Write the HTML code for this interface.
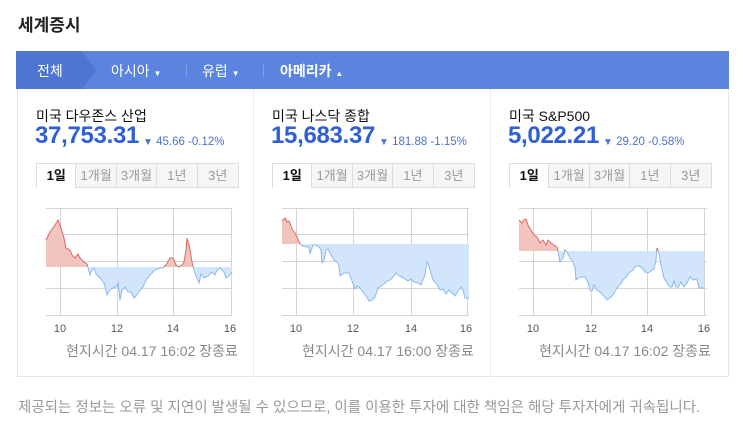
<!DOCTYPE html>
<html><head><meta charset="utf-8"><style>
*{margin:0;padding:0;box-sizing:border-box}
body{width:743px;height:429px;background:#fff;font-family:"Liberation Sans","Noto Sans CJK KR",sans-serif;position:relative;overflow:hidden}
.a{position:absolute;white-space:nowrap}
.title{left:18px;top:11px;font-size:17px;font-weight:bold;color:#222}
.bar{left:16px;top:51px;width:713px;height:38px;background:#5b84de}
.nav{color:#fff;font-size:14px;top:61px}
.panel{left:17px;top:89px;width:712px;height:288px;border:1px solid #e5e5e5;border-top:none}
.div{top:89px;width:1px;height:288px;background:#ececec}
.name{font-size:14px;color:#111;top:106px}
.val{font-size:24px;font-weight:bold;color:#2f5fd3;top:122px;letter-spacing:-0.3px}
.chg{font-size:11.5px;color:#4d71d0;top:136px}
.tabs{top:163px;height:25px;display:flex}
.tabs div{width:40.4px;height:25px;border:1px solid #ddd;border-left:none;background:#f6f6f6;color:#999;font-size:13px;text-align:center;line-height:23px}
.tabs div:first-child{background:#fff;color:#111;font-weight:bold;border-left:1px solid #ddd;border-bottom:none;border-top:1px solid #ddd}
.tabs div:last-child{border-right:none;box-shadow:1px 0 0 #ddd}
.st{font-size:14px;color:#888;top:341px}
.foot{left:18px;top:396px;font-size:14.5px;color:#999}
</style></head><body>
<div class="a title">세계증시</div>
<div class="a bar"></div>
<svg class="a" style="left:16px;top:51px" width="90" height="38"><polygon points="0,0 66,0 80,19 66,38 0,38" fill="#4f75d2"/></svg>
<div class="a nav" style="left:37px">전체</div>
<div class="a nav" style="left:111px">아시아 <span style="font-size:8px">▼</span></div>
<div class="a" style="left:186px;top:63px;width:1px;height:14px;background:#7d9ce6"></div>
<div class="a nav" style="left:202px">유럽 <span style="font-size:8px">▼</span></div>
<div class="a" style="left:263px;top:63px;width:1px;height:14px;background:#7d9ce6"></div>
<div class="a nav" style="left:280px;font-weight:bold">아메리카 <span style="font-size:8px">▲</span></div>
<div class="a panel"></div>
<div class="a div" style="left:253px"></div>
<div class="a div" style="left:490px"></div>

<div class="a name" style="left:36px">미국 다우존스 산업</div>
<div class="a val" style="left:35px">37,753.31</div>
<div class="a chg" style="left:143px"><span style="font-size:10px">▼</span> 45.66 -0.12%</div>
<div class="a tabs" style="left:36px"><div>1일</div><div>1개월</div><div>3개월</div><div>1년</div><div>3년</div></div>

<div class="a name" style="left:272px">미국 나스닥 종합</div>
<div class="a val" style="left:271px">15,683.37</div>
<div class="a chg" style="left:379px"><span style="font-size:10px">▼</span> 181.88 -1.15%</div>
<div class="a tabs" style="left:272px"><div>1일</div><div>1개월</div><div>3개월</div><div>1년</div><div>3년</div></div>

<div class="a name" style="left:509px">미국 S&amp;P500</div>
<div class="a val" style="left:508px">5,022.21</div>
<div class="a chg" style="left:603px"><span style="font-size:10px">▼</span> 29.20 -0.58%</div>
<div class="a tabs" style="left:509px"><div>1일</div><div>1개월</div><div>3개월</div><div>1년</div><div>3년</div></div>

<svg class="a" style="left:0;top:0" width="743" height="429">
<defs>
<clipPath id="u1"><rect x="0" y="0" width="743" height="267"/></clipPath><clipPath id="d1"><rect x="0" y="267" width="743" height="200"/></clipPath>
<clipPath id="u2"><rect x="0" y="0" width="743" height="244"/></clipPath><clipPath id="d2"><rect x="0" y="244" width="743" height="200"/></clipPath>
<clipPath id="u3"><rect x="0" y="0" width="743" height="251"/></clipPath><clipPath id="d3"><rect x="0" y="251" width="743" height="200"/></clipPath>
</defs>
<g stroke="#d5d5d5" stroke-width="1">
<path d="M46 208.5H232M46 234.5H232M46 261.5H232M46 288.5H232M46 315.5H232M60.5 208V315M117.5 208V315M173.5 208V315M231.5 208V315"/>
<path d="M282 208.5H469M282 234.5H469M282 261.5H469M282 288.5H469M282 315.5H469M296.5 208V315M353.5 208V315M411.5 208V315M467.5 208V315"/>
<path d="M519 208.5H707M519 234.5H707M519 261.5H707M519 288.5H707M519 315.5H707M533.5 208V315M591.5 208V315M647.5 208V315M704.5 208V315"/>
</g>
<g>
<polygon clip-path="url(#u1)" fill="#f2c4c0" points="46,267 46,240 50,232 55,225 58,220 61,228 64,238 66,248 70,250 72,255 75,258 78,254 80,258 84,262 87,264 90,275 92,270 94,268 96,274 100,278 104,283 107,295 110,290 113,288 116,287 118,283 120,300 122,290 125,287 128,292 131,292 134,298 137,295 140,290 143,287 146,280 150,275 155,270 160,268 163,268 166,265 170,258 173,258 176,265 179,267 182,265 184,262 186,250 187,238 189,245 190,250 192,262 194,270 196,276 199,283 201,274 204,278 208,276 212,272 215,275 217,270 220,268 224,272 226,278 229,276 232,272 232,267"/>
<polygon clip-path="url(#d1)" fill="#d3e5fa" points="46,267 46,240 50,232 55,225 58,220 61,228 64,238 66,248 70,250 72,255 75,258 78,254 80,258 84,262 87,264 90,275 92,270 94,268 96,274 100,278 104,283 107,295 110,290 113,288 116,287 118,283 120,300 122,290 125,287 128,292 131,292 134,298 137,295 140,290 143,287 146,280 150,275 155,270 160,268 163,268 166,265 170,258 173,258 176,265 179,267 182,265 184,262 186,250 187,238 189,245 190,250 192,262 194,270 196,276 199,283 201,274 204,278 208,276 212,272 215,275 217,270 220,268 224,272 226,278 229,276 232,272 232,267"/>
<polyline clip-path="url(#u1)" fill="none" stroke="#e2665c" points="46,240 50,232 55,225 58,220 61,228 64,238 66,248 70,250 72,255 75,258 78,254 80,258 84,262 87,264 90,275 92,270 94,268 96,274 100,278 104,283 107,295 110,290 113,288 116,287 118,283 120,300 122,290 125,287 128,292 131,292 134,298 137,295 140,290 143,287 146,280 150,275 155,270 160,268 163,268 166,265 170,258 173,258 176,265 179,267 182,265 184,262 186,250 187,238 189,245 190,250 192,262 194,270 196,276 199,283 201,274 204,278 208,276 212,272 215,275 217,270 220,268 224,272 226,278 229,276 232,272"/>
<polyline clip-path="url(#d1)" fill="none" stroke="#8ab8f2" points="46,240 50,232 55,225 58,220 61,228 64,238 66,248 70,250 72,255 75,258 78,254 80,258 84,262 87,264 90,275 92,270 94,268 96,274 100,278 104,283 107,295 110,290 113,288 116,287 118,283 120,300 122,290 125,287 128,292 131,292 134,298 137,295 140,290 143,287 146,280 150,275 155,270 160,268 163,268 166,265 170,258 173,258 176,265 179,267 182,265 184,262 186,250 187,238 189,245 190,250 192,262 194,270 196,276 199,283 201,274 204,278 208,276 212,272 215,275 217,270 220,268 224,272 226,278 229,276 232,272"/>
</g>
<g>
<polygon clip-path="url(#u2)" fill="#f2c4c0" points="282,244 282,221 285,218 287,222 289,221 292,229 295,233 297,237 299,242 301,245 303,246 306,247 309,247 310,254 313,245 316,245 319,247 321,250 322,263 324,260 326,250 328,249 331,255 334,260 337,262 339,266 340,276 342,274 345,273 349,273 352,281 355,289 357,286 360,288 363,292 366,296 369,301 372,300 375,297 378,288 381,286 384,284 387,281 390,280 393,277 396,273 399,276 402,277 405,279 408,281 411,279 414,282 418,283 421,285 423,280 425,275 427,262 428,263 430,270 433,280 436,283 440,290 443,289 446,294 449,290 452,293 455,296 458,291 461,287 463,290 465,298 469,298 469,244"/>
<polygon clip-path="url(#d2)" fill="#d3e5fa" points="282,244 282,221 285,218 287,222 289,221 292,229 295,233 297,237 299,242 301,245 303,246 306,247 309,247 310,254 313,245 316,245 319,247 321,250 322,263 324,260 326,250 328,249 331,255 334,260 337,262 339,266 340,276 342,274 345,273 349,273 352,281 355,289 357,286 360,288 363,292 366,296 369,301 372,300 375,297 378,288 381,286 384,284 387,281 390,280 393,277 396,273 399,276 402,277 405,279 408,281 411,279 414,282 418,283 421,285 423,280 425,275 427,262 428,263 430,270 433,280 436,283 440,290 443,289 446,294 449,290 452,293 455,296 458,291 461,287 463,290 465,298 469,298 469,244"/>
<polyline clip-path="url(#u2)" fill="none" stroke="#e2665c" points="282,221 285,218 287,222 289,221 292,229 295,233 297,237 299,242 301,245 303,246"/>
<polyline clip-path="url(#d2)" fill="none" stroke="#8ab8f2" points="299,242 301,245 303,246 306,247 309,247 310,254 313,245 316,245 319,247 321,250 322,263 324,260 326,250 328,249 331,255 334,260 337,262 339,266 340,276 342,274 345,273 349,273 352,281 355,289 357,286 360,288 363,292 366,296 369,301 372,300 375,297 378,288 381,286 384,284 387,281 390,280 393,277 396,273 399,276 402,277 405,279 408,281 411,279 414,282 418,283 421,285 423,280 425,275 427,262 428,263 430,270 433,280 436,283 440,290 443,289 446,294 449,290 452,293 455,296 458,291 461,287 463,290 465,298 469,298"/>
</g>
<g>
<polygon clip-path="url(#u3)" fill="#f2c4c0" points="519,251 519,220 522,223 524,220 526,219 528,225 531,230 534,235 537,237 540,243 543,240 546,245 548,240 551,243 554,245 557,247 558,251 560,262 563,258 565,250 567,252 570,258 573,262 575,268 576,280 578,278 581,277 585,277 588,282 590,290 592,291 594,285 597,290 600,292 603,295 607,300 610,298 613,295 617,288 620,285 623,280 626,277 630,272 633,270 636,266 639,266 642,268 645,272 648,273 651,271 654,269 656,260 657,248 659,253 661,265 664,278 667,283 670,287 672,287 674,281 676,287 678,287 681,282 684,287 687,283 690,277 693,280 695,279 697,280 699,288 702,288 704,288 704,251"/>
<polygon clip-path="url(#d3)" fill="#d3e5fa" points="519,251 519,220 522,223 524,220 526,219 528,225 531,230 534,235 537,237 540,243 543,240 546,245 548,240 551,243 554,245 557,247 558,251 560,262 563,258 565,250 567,252 570,258 573,262 575,268 576,280 578,278 581,277 585,277 588,282 590,290 592,291 594,285 597,290 600,292 603,295 607,300 610,298 613,295 617,288 620,285 623,280 626,277 630,272 633,270 636,266 639,266 642,268 645,272 648,273 651,271 654,269 656,260 657,248 659,253 661,265 664,278 667,283 670,287 672,287 674,281 676,287 678,287 681,282 684,287 687,283 690,277 693,280 695,279 697,280 699,288 702,288 704,288 704,251"/>
<polyline clip-path="url(#u3)" fill="none" stroke="#e2665c" points="519,220 522,223 524,220 526,219 528,225 531,230 534,235 537,237 540,243 543,240 546,245 548,240 551,243 554,245 557,247 558,251 560,262 563,258 565,250 567,252 570,258 573,262 575,268 576,280 578,278 581,277 585,277 588,282 590,290 592,291 594,285 597,290 600,292 603,295 607,300 610,298 613,295 617,288 620,285 623,280 626,277 630,272 633,270 636,266 639,266 642,268 645,272 648,273 651,271 654,269 656,260 657,248 659,253 661,265 664,278"/>
<polyline clip-path="url(#d3)" fill="none" stroke="#8ab8f2" points="519,220 522,223 524,220 526,219 528,225 531,230 534,235 537,237 540,243 543,240 546,245 548,240 551,243 554,245 557,247 558,251 560,262 563,258 565,250 567,252 570,258 573,262 575,268 576,280 578,278 581,277 585,277 588,282 590,290 592,291 594,285 597,290 600,292 603,295 607,300 610,298 613,295 617,288 620,285 623,280 626,277 630,272 633,270 636,266 639,266 642,268 645,272 648,273 651,271 654,269 656,260 657,248 659,253 661,265 664,278 667,283 670,287 672,287 674,281 676,287 678,287 681,282 684,287 687,283 690,277 693,280 695,279 697,280 699,288 702,288 704,288"/>
</g>
<g font-family="Liberation Sans, sans-serif" font-size="11" fill="#555" text-anchor="middle">
<text x="60" y="332">10</text><text x="117" y="332">12</text><text x="173" y="332">14</text><text x="230" y="332">16</text>
<text x="296" y="332">10</text><text x="353" y="332">12</text><text x="411" y="332">14</text><text x="466" y="332">16</text>
<text x="533" y="332">10</text><text x="591" y="332">12</text><text x="647" y="332">14</text><text x="704" y="332">16</text>
</g>
</svg>
<div class="a st" style="left:66px">현지시간 04.17 16:02 장종료</div>
<div class="a st" style="left:302px">현지시간 04.17 16:00 장종료</div>
<div class="a st" style="left:539px">현지시간 04.17 16:02 장종료</div>
<div class="a foot">제공되는 정보는 오류 및 지연이 발생될 수 있으므로, 이를 이용한 투자에 대한 책임은 해당 투자자에게 귀속됩니다.</div>
</body></html>
